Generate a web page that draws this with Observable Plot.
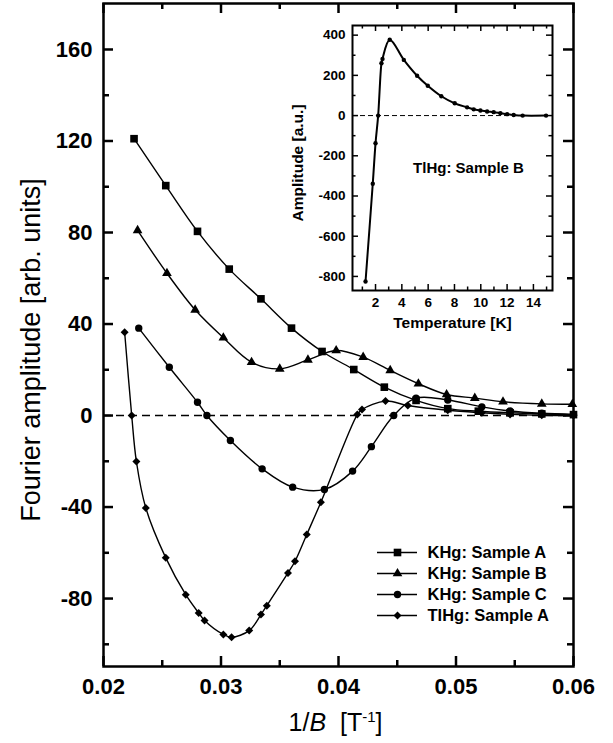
<!DOCTYPE html>
<html><head><meta charset="utf-8">
<script src="https://cdn.jsdelivr.net/npm/d3@7"></script>
<script src="https://cdn.jsdelivr.net/npm/@observablehq/plot@0.6"></script>
<style>
body{margin:0;background:#fff;}
#chart{position:relative;width:613px;height:743px;background:#fff;}
#chart svg{position:absolute;}
</style></head><body><div id="chart"></div>
<script>
// ---------- data ----------
const seriesNames = ["KHg: Sample A", "KHg: Sample B", "KHg: Sample C", "TlHg: Sample A"];
const seriesSymbols = ["square", "triangle", "circle", "diamond2"];

const xA = [0.0226, 0.0253, 0.0280, 0.0307, 0.0334, 0.0360, 0.0386, 0.0413, 0.0439, 0.0466, 0.0493, 0.0519, 0.0546, 0.0573, 0.0600];
const yA = [121, 100.5, 80.5, 64, 51, 38.2, 28, 20.1, 12.4, 6.6, 3.0, 1.9, 1.2, 0.7, 0.4];

const xB = [0.0229, 0.0254, 0.0278, 0.0302, 0.0326, 0.0350, 0.0374, 0.0398, 0.0421, 0.0444, 0.0468, 0.0492, 0.0516, 0.0540, 0.0573, 0.0599];
const yB = [80.9, 62.2, 46.2, 34, 23.3, 20.4, 24.3, 28.4, 25.5, 19.7, 13.9, 9.2, 7.6, 6.0, 5.1, 4.9];

const xC = [0.0230, 0.0256, 0.0280, 0.0288, 0.0308, 0.0335, 0.0361, 0.0388, 0.0412, 0.0428, 0.0447, 0.0466, 0.0493, 0.0522, 0.0546, 0.0573, 0.0600];
const yC = [38.2, 21.1, 5.8, 0, -10.9, -23.3, -31.3, -32.3, -24.3, -13.6, 0, 7.6, 6.8, 3.8, 2.0, 1.0, 0.5];

const xD = [0.0218, 0.0224, 0.0228, 0.0236, 0.0253, 0.0270, 0.0281, 0.0286, 0.0302, 0.0309, 0.0324, 0.0334, 0.0339, 0.0357, 0.0363, 0.0373, 0.0385, 0.0416, 0.0420, 0.0440, 0.0459, 0.0493, 0.0522, 0.0546, 0.0573, 0.0600];
const yD = [36.4, 0, -20.1, -40.4, -62.2, -78.3, -86.3, -89.6, -95.7, -96.9, -94, -87, -83.1, -68.8, -63.7, -52, -37.9, 0.4, 2.6, 6.3, 4.4, 2.3, 1.2, 0.5, 0.1, 0];

const xMajor = [0.02, 0.03, 0.04, 0.05, 0.06];
const xMinor = [0.025, 0.035, 0.045, 0.055];
const yMajor = [-80, -40, 0, 40, 80, 120, 160];
const yMinor = [-100, -60, -20, 20, 60, 100, 140];

// inset: TlHg sample B, amplitude vs temperature
const insetT = [1.24, 1.79, 2.0, 2.2, 2.45, 2.53, 3.08, 4.15, 5.16, 5.97, 7.0, 8.02, 8.96, 9.46, 9.97, 10.48, 10.98, 11.49, 12.0, 12.5, 13.18, 14.96];
const insetAmp = [-825, -339, -138, 0, 260, 282, 377, 277, 198, 148, 96, 61, 41, 31, 25, 20, 17, 12, 7, 3, 0, 0];
const insetXMajor = [2, 4, 6, 8, 10, 12, 14];
const insetXMinor = [1, 3, 5, 7, 9, 11, 13, 15];
const insetYMajor = [-800, -600, -400, -200, 0, 200, 400];
const insetYMinor = [-700, -500, -300, -100, 100, 300];

const xLabel = "1/B  [T-1]";
const yLabel = "Fourier amplitude [arb. units]";
const insetXLabel = "Temperature [K]";
const insetYLabel = "Amplitude [a.u.]";
const insetNote = "TlHg: Sample B";

// ---------- build ----------
const font = "'Liberation Sans', Arial, Helvetica, sans-serif";
const rows = (name, xs, ys) => xs.map((x, i) => ({series: name, x, y: ys[i]}));
const mainData = [
  ...rows(seriesNames[0], xA, yA),
  ...rows(seriesNames[1], xB, yB),
  ...rows(seriesNames[2], xC, yC),
  ...rows(seriesNames[3], xD, yD)
];
const dotR = [4.3, 3.6, 3.7, 3.6];

function frameTicks(xMaj, xMin, yMaj, yMin, fw, fh, maj, min, sw) {
  const o = {stroke: "black", strokeWidth: sw, strokeLinecap: "butt"};
  const out = [];
  for (const [vals, len] of [[xMaj, maj], [xMin, min]]) {
    out.push(Plot.tickX(vals, {x: d => d, insetTop: fh - len, ...o}));
    out.push(Plot.tickX(vals, {x: d => d, insetBottom: fh - len, ...o}));
  }
  for (const [vals, len] of [[yMaj, maj], [yMin, min]]) {
    out.push(Plot.tickY(vals, {y: d => d, insetRight: fw - len, ...o}));
    out.push(Plot.tickY(vals, {y: d => d, insetLeft: fw - len, ...o}));
  }
  return out;
}

const W = 613, H = 743, mL = 103, mR = 40, mT = 3, mB = 77;
const fw = W - mL - mR, fh = H - mT - mB;

const main = Plot.plot({
  width: W, height: H,
  marginLeft: mL, marginRight: mR, marginTop: mT, marginBottom: mB,
  style: {fontFamily: font, fontSize: "22px", fontWeight: "bold", background: "transparent", overflow: "visible", color: "black"},
  x: {domain: [0.02, 0.06], ticks: xMajor, tickSize: 0, tickPadding: 12, tickFormat: d => d.toFixed(2), label: null},
  y: {domain: [-109.7, 180.1], ticks: yMajor, tickSize: 0, tickPadding: 11, tickFormat: d => String(d), label: null},
  symbol: {domain: seriesNames, range: seriesSymbols},
  marks: [
    Plot.ruleY([0], {stroke: "black", strokeWidth: 1.5, strokeDasharray: "8,5"}),
    Plot.line(mainData, {x: "x", y: "y", z: "series", curve: "catmull-rom", stroke: "black", strokeWidth: 1.4}),
    ...seriesNames.map((s, i) => Plot.dot(mainData, {filter: d => d.series === s, x: "x", y: "y", symbol: "series", r: dotR[i], fill: "black", stroke: "none"})),
    ...frameTicks(xMajor, xMinor, yMajor, yMinor, fw, fh, 10, 6, 2.5),
    Plot.frame({stroke: "black", strokeWidth: 2.5}),
    Plot.text([xLabel], {text: d => d, frameAnchor: "bottom", textAnchor: "middle", dx: -3, dy: 56, fontSize: 25, fontWeight: "normal", lineAnchor: "middle"}),
    Plot.text([yLabel], {text: d => d, frameAnchor: "left", textAnchor: "middle", dx: -72, dy: 15, rotate: -90, fontSize: 27, fontWeight: "normal", lineAnchor: "middle"})
  ]
});

// italic B and superscript -1 in the x label
d3.select(main).selectAll("text").filter(function() { return this.textContent === xLabel; }).each(function() {
  const t = d3.select(this);
  t.text("").style("white-space", "pre");
  t.append("tspan").text("1/");
  t.append("tspan").style("font-style", "italic").text("B");
  t.append("tspan").text("  [T");
  t.append("tspan").attr("dy", -9).style("font-size", "15px").text("-1");
  t.append("tspan").attr("dy", 9).text("]");
});

// inset
const iW = 290, iH = 340, iL = 72, iR = 18, iT = 15, iB = 60;
const ifw = iW - iL - iR, ifh = iH - iT - iB;
const insetData = insetT.map((t, i) => ({t, a: insetAmp[i]}));
const inset = Plot.plot({
  width: iW, height: iH, marginLeft: iL, marginRight: iR, marginTop: iT, marginBottom: iB,
  style: {fontFamily: font, fontSize: "13.5px", fontWeight: "bold", background: "transparent", overflow: "visible", color: "black"},
  x: {domain: [0.25, 15.45], ticks: insetXMajor, tickSize: 0, tickPadding: 7, tickFormat: d => String(d), label: null},
  y: {domain: [-870, 448], ticks: insetYMajor, tickSize: 0, tickPadding: 7, tickFormat: d => String(d), label: null},
  marks: [
    Plot.ruleY([0], {stroke: "black", strokeWidth: 1, strokeDasharray: "5,3"}),
    Plot.line(insetData, {x: "t", y: "a", curve: "catmull-rom", stroke: "black", strokeWidth: 2}),
    Plot.dot(insetData, {x: "t", y: "a", r: 2.2, fill: "black", stroke: "none"}),
    ...frameTicks(insetXMajor, insetXMinor, insetYMajor, insetYMinor, ifw, ifh, 6, 3.5, 1.5),
    Plot.frame({stroke: "black", strokeWidth: 2}),
    Plot.text([insetNote], {text: d => d, frameAnchor: "middle", dx: 16, dy: 10, fontSize: 15}),
    Plot.text([insetXLabel], {text: d => d, frameAnchor: "bottom", textAnchor: "middle", dy: 33, fontSize: 15.5, lineAnchor: "middle"}),
    Plot.text([insetYLabel], {text: d => d, frameAnchor: "left", textAnchor: "middle", dx: -54, dy: 5, rotate: -90, fontSize: 15.5, lineAnchor: "middle"})
  ]
});

// legend
const lW = 200, lH = 115;
const legend = Plot.plot({
  width: lW, height: lH, margin: 0,
  style: {fontFamily: font, fontSize: "16.5px", fontWeight: "bold", background: "transparent", overflow: "visible", color: "black"},
  x: {domain: [0, lW], range: [0, lW], axis: null},
  y: {type: "point", domain: seriesNames, range: [15.7, 101], axis: null},
  symbol: {domain: seriesNames, range: seriesSymbols},
  marks: [
    Plot.ruleY(seriesNames, {y: d => d, x1: 7, x2: 47, stroke: "black", strokeWidth: 1.4}),
    ...seriesNames.map((s, i) => Plot.dot(seriesNames, {filter: d => d === s, x: 27, y: d => d, symbol: d => d, r: dotR[i], fill: "black", stroke: "none"})),
    Plot.text(seriesNames, {x: 57, y: d => d, text: d => d, textAnchor: "start", lineAnchor: "middle"})
  ]
});

const chart = document.getElementById("chart");
main.style.left = "0px"; main.style.top = "0px";
inset.style.left = "280px"; inset.style.top = "10px";
legend.style.left = "370px"; legend.style.top = "525px";
chart.appendChild(main);
chart.appendChild(inset);
chart.appendChild(legend);
</script>
</body></html>
